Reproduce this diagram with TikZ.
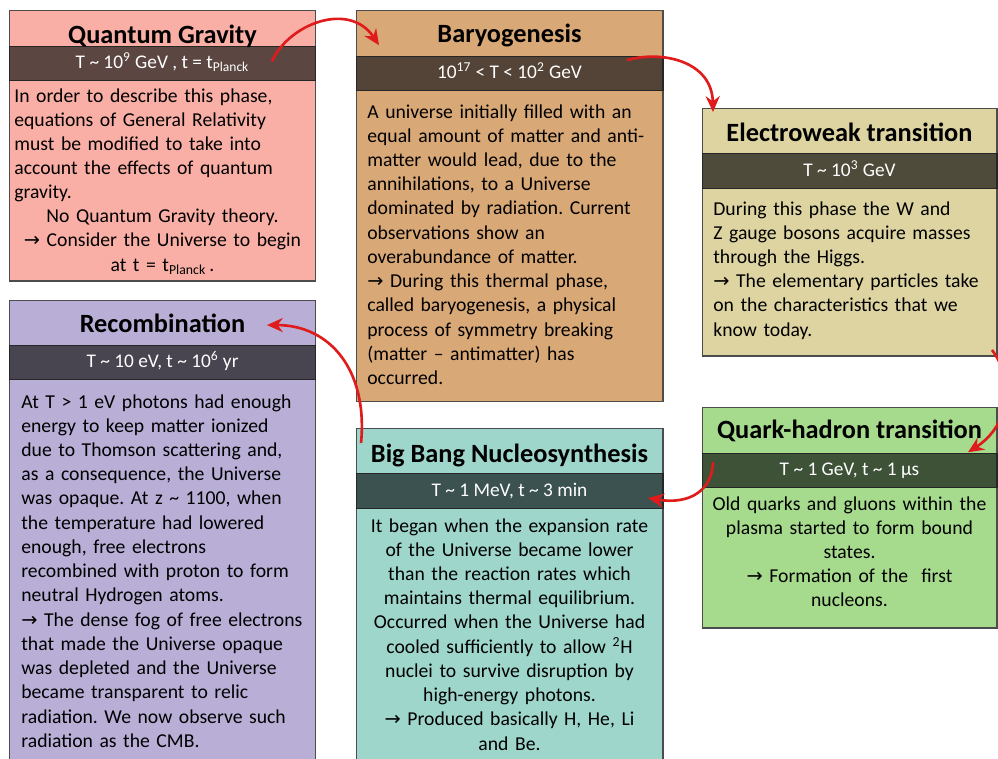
\documentclass[tikz,border=0pt]{standalone}
\usepackage{fontspec}
\setmainfont{Carlito}
\newfontfamily\arrowfont{DejaVu Sans}
\usetikzlibrary{arrows.meta,calc,positioning}

\definecolor{qgfill}{HTML}{F9AFA5}
\definecolor{qgdark}{HTML}{5B4641}
\definecolor{baryofill}{HTML}{D9A877}
\definecolor{baryodark}{HTML}{544437}
\definecolor{ewfill}{HTML}{DDD4A1}
\definecolor{ewdark}{HTML}{4F4B3A}
\definecolor{recfill}{HTML}{B8AED6}
\definecolor{recdark}{HTML}{484450}
\definecolor{bbnfill}{HTML}{9ED6CC}
\definecolor{bbndark}{HTML}{3C5250}
\definecolor{qhfill}{HTML}{A6DB8D}
\definecolor{qhdark}{HTML}{3E5238}
\definecolor{flowred}{HTML}{E01B1B}

\newcommand{\tld}{\char`\~}
\newcommand{\thn}{{\arrowfont\fontsize{11}{12}\selectfont →}}
\frenchspacing

\tikzset{
  phasebox/.style={draw=black!70,line width=0.6pt,inner sep=0,outer sep=0},
  band/.style={draw=black!85,line width=0.6pt,inner sep=0,outer sep=0,text=white,
    minimum height=0.69cm,text height=1.6ex,text depth=0.4ex,font=\fontsize{11}{13}\selectfont},
  phasetitle/.style={anchor=base,inner sep=0,font=\fontsize{15}{17}\selectfont\bfseries},
  bodyleft/.style={anchor=base west,inner sep=0,text width=5.9cm,align=left,
    font=\fontsize{11.2}{13.8}\selectfont},
  bodymid/.style={anchor=base,inner sep=0,text width=6.0cm,align=center,
    font=\fontsize{11.2}{13.8}\selectfont},
  flow/.style={-{Stealth[length=9pt,width=8pt]},draw=flowred,line width=1.5pt}
}

\begin{document}
\begin{tikzpicture}[x=0.02cm,y=-0.02cm]
\useasboundingbox (0,0) rectangle (998,758);

% Quantum Gravity
\node[phasebox,fill=qgfill,minimum width=6.14cm,minimum height=5.42cm] (qg) at (162.5,145.5) {};
\node[band,fill=qgdark,minimum width=6.14cm] (qgband) at (162.5,63.5) {T \tld{} 10\textsuperscript{9} GeV , t = t\textsubscript{Planck}};
\node[phasetitle] (qgtitle) at (162.5,43) {Quantum Gravity};
\node[bodyleft] (qgbody) at (14,102) {In order to describe this phase,\\equations of General Relativity\\must be modified to take into\\account the effects of quantum\\gravity.};
\node[bodymid] (qgnote) at (162.5,222.6) {No Quantum Gravity theory.\\\thn{} Consider the Universe to begin\\at t = t\textsubscript{Planck}\,.};

% Baryogenesis
\node[phasebox,fill=baryofill,minimum width=6.14cm,minimum height=7.84cm] (baryo) at (509.5,206) {};
\node[band,fill=baryodark,minimum width=6.14cm] (baryoband) at (509.5,73.5) {10\textsuperscript{17} < T < 10\textsuperscript{2} GeV};
\node[phasetitle] (baryotitle) at (509.5,42) {Baryogenesis};
\node[bodyleft] (baryobody) at (367,118) {A universe initially filled with an\\equal amount of matter and anti-\\matter would lead, due to the\\annihilations, to a Universe\\dominated by radiation. Current\\observations show an\\overabundance of matter.\\\thn{} During this thermal phase,\\called baryogenesis, a physical\\process of symmetry breaking\\(matter -- antimatter) has\\occurred.};

% Electroweak transition
\node[phasebox,fill=ewfill,minimum width=5.90cm,minimum height=4.96cm] (ew) at (849.5,232) {};
\node[band,fill=ewdark,minimum width=5.90cm] (ewband) at (849.5,171) {T \tld{} 10\textsuperscript{3} GeV};
\node[phasetitle] (ewtitle) at (849.5,141) {Electroweak transition};
\node[bodyleft] (ewbody) at (713,215) {During this phase the W and\\Z gauge bosons acquire masses\\through the Higgs.\\\thn{} The elementary particles take\\on the characteristics that we\\know today.};

% Recombination
\node[phasebox,fill=recfill,minimum width=6.14cm,minimum height=9.5cm] (rec) at (162.5,537.5) {};
\node[band,fill=recdark,minimum width=6.14cm] (recband) at (162.5,362.5) {T \tld{} 10 eV, t \tld{} 10\textsuperscript{6} yr};
\node[phasetitle] (rectitle) at (162.5,332) {Recombination};
\node[bodyleft] (recbody) at (21,408) {At T > 1 eV photons had enough\\energy to keep matter ionized\\due to Thomson scattering and,\\as a consequence, the Universe\\was opaque. At z \tld{} 1100, when\\the temperature had lowered\\enough, free electrons\\recombined with proton to form\\neutral Hydrogen atoms.\\\thn{} The dense fog of free electrons\\that made the Universe opaque\\was depleted and the Universe\\became transparent to relic\\radiation. We now observe such\\radiation as the CMB.};

% Big Bang Nucleosynthesis
\node[phasebox,fill=bbnfill,minimum width=6.14cm,minimum height=6.94cm] (bbn) at (509.5,601.5) {};
\node[band,fill=bbndark,minimum width=6.14cm] (bbnband) at (509.5,491) {T \tld{} 1 MeV, t \tld{} 3 min};
\node[phasetitle] (bbntitle) at (509.5,462) {Big Bang Nucleosynthesis};
\node[bodymid] (bbnbody) at (509.5,532) {It began when the expansion rate\\of the Universe became lower\\than the reaction rates which\\maintains thermal equilibrium.\\Occurred when the Universe had\\cooled sufficiently to allow \textsuperscript{2}H\\nuclei to survive disruption by\\high-energy photons.\\\thn{} Produced basically H, He, Li\\and Be.};

% Quark-hadron transition
\node[phasebox,fill=qhfill,minimum width=5.90cm,minimum height=4.42cm] (qh) at (849.5,517.5) {};
\node[band,fill=qhdark,minimum width=5.90cm] (qhband) at (849.5,470.5) {T \tld{} 1 GeV, t \tld{} 1 µs};
\node[phasetitle] (qhtitle) at (849.5,438) {Quark-hadron transition};
\node[bodymid] (qhbody) at (849.5,510) {Old quarks and gluons within the\\plasma started to form bound\\states.\\\thn{} Formation of the\ \ first\\nucleons.};

% arrows between phases
\draw[flow] ($(qgband.east)+(-44,-2)$) .. controls +(16,-37) and +(-30,-45) .. ($(baryoband.north west)+(23,-11)$);
\draw[flow] ($(baryoband.north east)+(-36,4)$) .. controls +(33,-10) and +(-1,-52) .. ($(ew.north west)+(11,4)$);
\draw[flow] ($(ew.south east)+(-5,-6)$) .. controls +(23,30) and +(42,-27) .. ($(qhband.north east)+(-29,-1)$);
\draw[flow] ($(qhband.north west)+(11,9)$) .. controls +(-1,28) and +(42,7) .. ($(bbnband.east)+(-15,7)$);
\draw[flow] ($(bbn.north west)+(5,15)$) .. controls +(7,-73) and +(63,0) .. ($(rec.north east)+(-49,25)$);
\end{tikzpicture}
\end{document}
